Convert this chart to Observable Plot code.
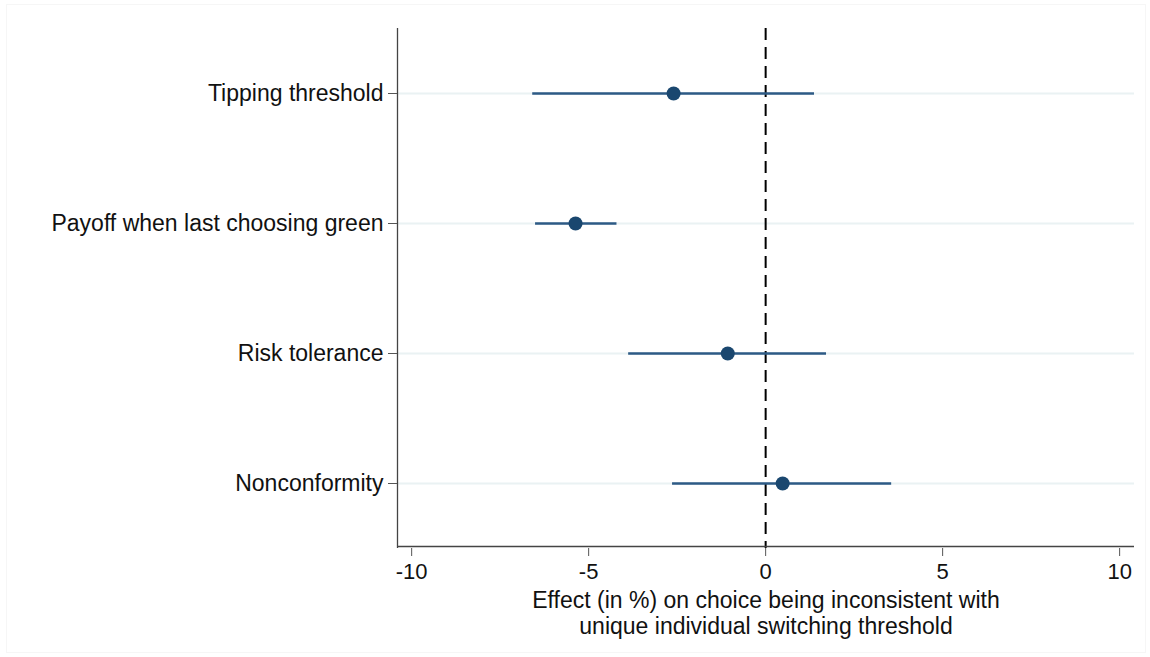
<!DOCTYPE html>
<html>
<head>
<meta charset="utf-8">
<script src="https://cdn.jsdelivr.net/npm/d3@7"></script>
<script src="https://cdn.jsdelivr.net/npm/@observablehq/plot@0.6"></script>
<style>
  html, body { margin: 0; padding: 0; background: #fff; }
  #wrap { position: relative; width: 1150px; height: 657px; }
  #border { position: absolute; left: 6px; top: 4px; right: 4px; bottom: 4px; border: 1px solid #f6f6f6; pointer-events: none; }
</style>
</head>
<body>
<div id="wrap"><div id="border"></div></div>
<script>
const categories = ["Tipping threshold", "Payoff when last choosing green", "Risk tolerance", "Nonconformity"];
const estimates = [-2.6, -5.37, -1.07, 0.48];
const ciLow = [-6.58, -6.5, -3.87, -2.63];
const ciHigh = [1.38, -4.2, 1.72, 3.56];
const xTicks = [-10, -5, 0, 5, 10];
const xDomain = [-10.4, 10.42];
const xTitle = "Effect (in %) on choice being inconsistent with\nunique individual switching threshold";

const rows = categories.map((c, i) => ({cat: c, est: estimates[i], lo: ciLow[i], hi: ciHigh[i]}));

const chart = Plot.plot({
  width: 1150,
  height: 657,
  marginLeft: 397,
  marginRight: 16,
  marginTop: 28,
  marginBottom: 109,
  style: {fontFamily: "'Liberation Sans', Arial, sans-serif", fontSize: "23px", color: "#111", background: "transparent"},
  x: {domain: xDomain},
  y: {type: "point", domain: categories, padding: 0.5},
  marks: [
    Plot.ruleY(categories, {y: d => d, stroke: "#eaf2f3", strokeWidth: 2}),
    Plot.ruleX([0], {stroke: "#000", strokeWidth: 2, strokeDasharray: "12,7"}),
    Plot.ruleX([xDomain[0]], {stroke: "#444", strokeWidth: 1.3}),
    Plot.ruleY([categories[categories.length - 1]], {x1: xDomain[0], x2: xDomain[1], dy: 63, stroke: "#444", strokeWidth: 1.3}),
    Plot.axisY({tickSize: 9, tickPadding: 5, stroke: "#555", label: null, fontSize: 23}),
    Plot.axisX({ticks: xTicks, tickSize: 8, tickPadding: 7, stroke: "#555", label: null, fontSize: 22, tickFormat: d => String(d)}),
    Plot.text([xTitle], {frameAnchor: "bottom", text: d => d, dy: 42, lineAnchor: "top", lineHeight: 1.1, fontSize: 23, fill: "#111"}),
    Plot.ruleY(rows, {y: "cat", x1: "lo", x2: "hi", stroke: "#2d5a85", strokeWidth: 2.5}),
    Plot.dot(rows, {y: "cat", x: "est", r: 7, fill: "#1a476f", stroke: "none"})
  ]
});
document.getElementById("wrap").appendChild(chart);
chart.style.position = "absolute";
chart.style.left = "0";
chart.style.top = "0";
</script>
</body>
</html>
